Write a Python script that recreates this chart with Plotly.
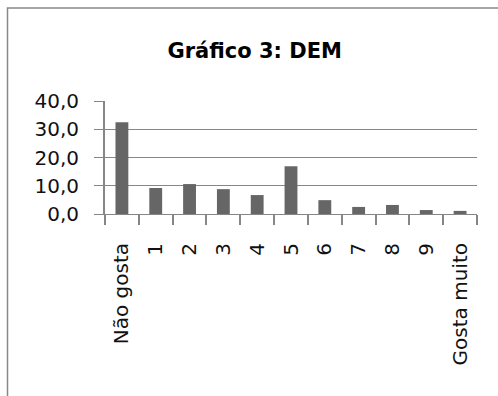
import plotly.graph_objects as go

categories = ["Não gosta", "1", "2", "3", "4", "5", "6", "7", "8", "9", "Gosta muito"]
values = [32.5, 9.2, 10.6, 8.8, 6.7, 16.9, 4.9, 2.5, 3.2, 1.4, 1.1]
y_ticks = [0, 10, 20, 30, 40]
title_text = "Gráfico 3: DEM"

W, H = 498, 396
ML, MR, MT, MB = 105, 21, 101, 182
pw = W - ML - MR
ph = H - MT - MB

fig = go.Figure()
fig.add_trace(go.Bar(x=categories, y=values, marker=dict(color="#666666", line=dict(width=0)),
                     hoverinfo="skip"))

grid = "#868686"
fig.update_layout(
    width=W, height=H,
    margin=dict(l=ML, r=MR, t=MT, b=MB, pad=0),
    paper_bgcolor="white", plot_bgcolor="white",
    separators=",.",
    bargap=0.62,
    showlegend=False,
    font=dict(family="DejaVu Sans", color="#000000", size=20),
    title=dict(text="<b>" + title_text + "</b>", x=254.7 / W, xanchor="center",
               y=1 - 51 / H, yanchor="middle",
               font=dict(family="DejaVu Sans", size=21, color="#000000")),
)
fig.update_yaxes(range=[0, 40], tickvals=y_ticks, tickformat=".1f",
                 showgrid=True, gridcolor=grid, gridwidth=1,
                 showline=True, linecolor=grid, linewidth=2,
                 ticks="outside", ticklen=9, tickcolor=grid, tickwidth=1,
                 ticklabelstandoff=11, zeroline=False,
                 tickfont=dict(family="DejaVu Sans", size=20, color="#111111"))
fig.update_xaxes(showline=True, linecolor=grid, linewidth=1,
                 ticks="outside", tickson="boundaries", ticklen=10, tickcolor=grid, tickwidth=2,
                 tickangle=-90, ticklabelstandoff=20,
                 tickfont=dict(family="DejaVu Sans", size=20, color="#111111"))

# chart-area border (top and left visible)
fig.add_shape(type="rect", xref="paper", yref="paper",
              x0=(7.5 - ML) / pw, x1=(W + 5 - ML) / pw,
              y0=-(H + 5 - MT - ph) / ph, y1=(MT - 8) / ph + 1,
              line=dict(color="#888888", width=1.5), fillcolor="rgba(0,0,0,0)", layer="below")

fig.write_html("out.html")
